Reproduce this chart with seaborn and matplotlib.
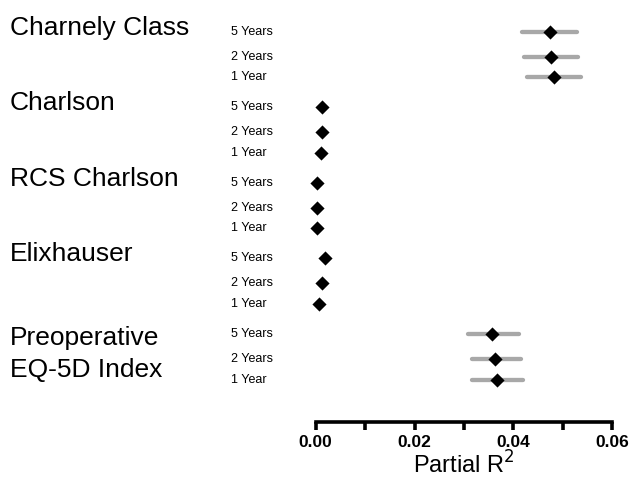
import matplotlib
matplotlib.use("Agg")
import matplotlib.pyplot as plt
import matplotlib.transforms as mtransforms
import numpy as np
import pandas as pd
import seaborn as sns

# ---- data ----
groups = ["Charnely Class", "Charlson", "RCS Charlson", "Elixhauser", "Preoperative\nEQ-5D Index"]
periods = ["5 Years", "2 Years", "1 Year"]
estimate = [
    [0.0473, 0.0476, 0.0482],
    [0.0012, 0.0012, 0.0010],
    [0.0003, 0.0003, 0.0002],
    [0.0019, 0.0012, 0.0007],
    [0.0357, 0.0363, 0.0367],
]
lower = [
    [0.0417, 0.0422, 0.0427],
    [0.0008, 0.0008, 0.0006],
    [0.0001, 0.0001, 0.0000],
    [0.0015, 0.0008, 0.0003],
    [0.0309, 0.0316, 0.0316],
]
upper = [
    [0.0529, 0.0531, 0.0536],
    [0.0016, 0.0016, 0.0014],
    [0.0005, 0.0005, 0.0004],
    [0.0023, 0.0016, 0.0011],
    [0.0411, 0.0415, 0.0420],
]
xticks_major = [0.00, 0.02, 0.04, 0.06]
xticks_minor = [0.01, 0.03, 0.05]

# ---- layout (row positions) ----
group_step = 3.02
row_offsets = [0.0, 1.0, 1.83]

rows = []
for gi, g in enumerate(groups):
    for ri, p in enumerate(periods):
        rows.append(dict(group=g, period=p, est=estimate[gi][ri], lo=lower[gi][ri],
                         hi=upper[gi][ri], ypos=gi * group_step + row_offsets[ri]))
df = pd.DataFrame(rows)

sns.set_theme(style="white")
plt.rcParams["font.family"] = ["Liberation Sans", "DejaVu Sans"]
plt.rcParams["text.color"] = "black"
plt.rcParams["axes.labelcolor"] = "black"
plt.rcParams["xtick.color"] = "black"

fig = plt.figure(figsize=(6.33, 4.88), dpi=100)
ax = fig.add_axes([0.4988, 0.1352, 0.4685, 0.8443])

ax.hlines(df["ypos"], df["lo"], df["hi"], colors="#a8a8a8", linewidth=3.1,
          capstyle="round", zorder=2, clip_on=False)
sns.scatterplot(data=df, x="est", y="ypos", marker="D", s=52, color="black",
                linewidth=0, zorder=3, ax=ax, clip_on=False, legend=False)

ax.set_xlim(0, 0.06)
ax.set_ylim(15.61, -0.868)
ax.set_xticks(xticks_major)
ax.set_xticks(xticks_minor, minor=True)
ax.set_xticklabels([f"{v:.2f}" for v in xticks_major], fontsize=12.5, fontweight="bold")
ax.set_yticks([])
ax.set_ylabel("")
ax.set_xlabel("Partial R$^2$", fontsize=17, labelpad=1)
for s in ["top", "right", "left"]:
    ax.spines[s].set_visible(False)
ax.spines["bottom"].set_linewidth(2.6)
ax.spines["bottom"].set_color("black")
ax.tick_params(axis="x", which="both", direction="out", length=6, width=2.6,
               color="black", labelcolor="black", bottom=True, pad=3)

trans = mtransforms.blended_transform_factory(fig.transFigure, ax.transData)
for gi, g in enumerate(groups):
    nlines = g.count("\n")
    # baseline of the last line; multi-line labels go lower
    yb = gi * group_step + 0.12 + nlines * 1.61
    ax.text(10 / 633, yb, g, transform=trans, fontsize=19, color="black",
            ha="left", va="baseline", linespacing=1.42)
for _, r in df.iterrows():
    ax.text(231 / 633, r["ypos"], r["period"], transform=trans, fontsize=9,
            color="black", ha="left", va="center")

fig.savefig("out.png", dpi=100)
